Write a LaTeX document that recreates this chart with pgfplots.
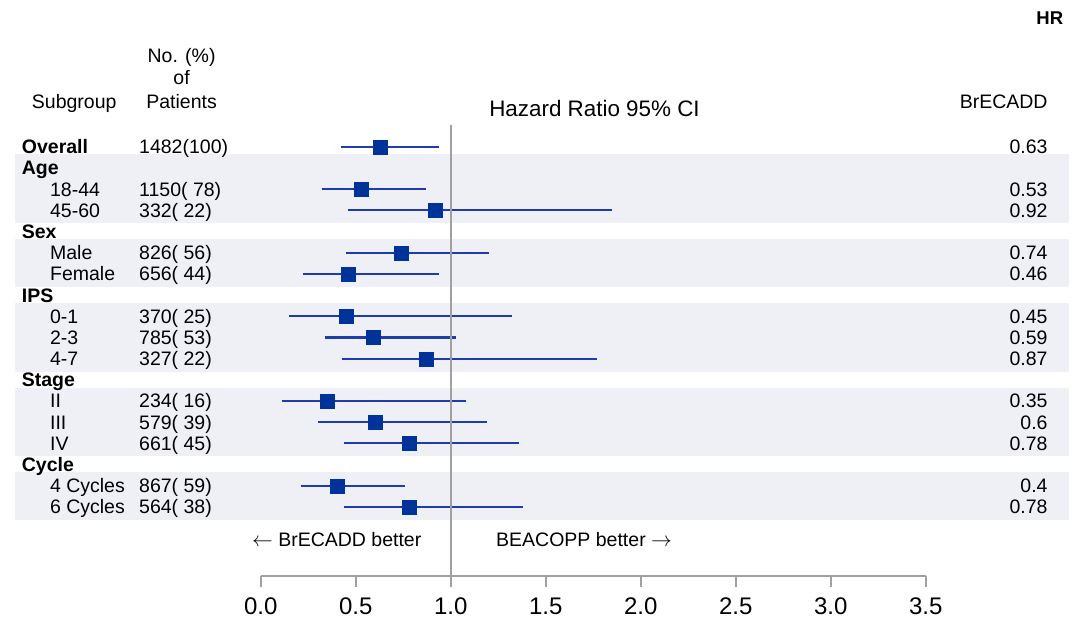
\documentclass[border=0pt]{standalone}
\usepackage{fontspec}
\setmainfont{Liberation Sans}
\usepackage{pgfplots}
\usepackage{pgfplotstable}
\pgfplotsset{compat=1.18}
\definecolor{stripe}{RGB}{239,239,246}
\definecolor{ci}{RGB}{30,60,170}
\definecolor{sq}{RGB}{0,51,153}
\definecolor{refg}{RGB}{160,160,160}
\newcommand\rf{\fontsize{19.5}{22}\selectfont}

% hazard ratio estimates (row index from the top)
\pgfplotstableread{
row hr
0 0.63
2 0.53
3 0.92
5 0.74
6 0.46
8 0.45
9 0.59
10 0.87
12 0.35
13 0.60
14 0.78
16 0.40
17 0.78
}\hrdata

% 95% CI segments (lower, upper), separated by nan
\pgfplotstableread{
x row
0.42 0
0.94 0
nan nan
0.32 2
0.87 2
nan nan
0.46 3
1.85 3
nan nan
0.45 5
1.20 5
nan nan
0.22 6
0.94 6
nan nan
0.15 8
1.32 8
nan nan
0.34 9
1.03 9
nan nan
0.43 10
1.77 10
nan nan
0.11 12
1.08 12
nan nan
0.30 13
1.19 13
nan nan
0.44 14
1.36 14
nan nan
0.21 16
0.76 16
nan nan
0.44 17
1.38 17
}\cidata

\begin{document}
\begin{tikzpicture}[
  head/.style={anchor=base west, inner sep=0pt, yshift=-7pt, font=\rf\bfseries},
  item/.style={anchor=base west, inner sep=0pt, yshift=-7pt, font=\rf},
  num/.style={anchor=base west, inner sep=0pt, yshift=-7pt, font=\rf},
  hrv/.style={anchor=base east, inner sep=0pt, yshift=-7pt, font=\rf}]
\useasboundingbox (0,0) rectangle (1073pt,621pt);
\begin{axis}[at={(0,0)}, anchor=south west, width=1073pt, height=621pt, scale only axis,
  xmin=-1.37211, xmax=4.27526, ymin=-6.9231, ymax=22.383, y dir=reverse,
  hide axis, clip=false, unbounded coords=jump]
% stripes
\addplot[fill=stripe, draw=none] coordinates {(-1.293,0.36) (4.254,0.36) (4.254,3.61) (-1.293,3.61)} -- cycle;
\addplot[fill=stripe, draw=none] coordinates {(-1.293,4.37) (4.254,4.37) (4.254,6.60) (-1.293,6.60)} -- cycle;
\addplot[fill=stripe, draw=none] coordinates {(-1.293,7.36) (4.254,7.36) (4.254,10.62) (-1.293,10.62)} -- cycle;
\addplot[fill=stripe, draw=none] coordinates {(-1.293,11.38) (4.254,11.38) (4.254,14.60) (-1.293,14.60)} -- cycle;
\addplot[fill=stripe, draw=none] coordinates {(-1.293,15.37) (4.254,15.37) (4.254,17.62) (-1.293,17.62)} -- cycle;
% CIs
\addplot[ci, line width=2.2pt, mark=none] table[x=x, y=row] {\cidata};
% reference line
\addplot[refg, line width=1.8pt, mark=none] coordinates {(1,-1.04) (1,20.78)};
% estimates
\addplot[sq, only marks, mark=square*, mark size=7pt, mark options={fill=sq, draw=sq, line width=0.2pt}]
  table[x=hr, y=row] {\hrdata};

% header
\node[anchor=base west, inner sep=0pt, font=\rf] at (-1.205,-1.826) {Subgroup};
\node[anchor=base, inner sep=0pt, font=\rf] at (-0.4163,-3.997) {No. (\%)};
\node[anchor=base, inner sep=0pt, font=\rf] at (-0.4163,-2.912) {of};
\node[anchor=base, inner sep=0pt, font=\rf] at (-0.4163,-1.826) {Patients};
\node[anchor=base west, inner sep=0pt, font=\fontsize{22.4}{24}\selectfont] at (1.2021,-1.402) {Hazard Ratio 95\% CI};
\node[anchor=base east, inner sep=0pt, font=\rf] at (4.1421,-1.826) {BrECADD};
\node[anchor=base east, inner sep=0pt, font=\fontsize{18.5}{20}\selectfont\bfseries] at (4.2242,-5.776) {HR};

% headings
\node[head] at (-1.2579,0) {Overall};
\node[head] at (-1.2579,1) {Age};
\node[head] at (-1.2579,4) {Sex};
\node[head] at (-1.2579,7) {IPS};
\node[head] at (-1.2579,11) {Stage};
\node[head] at (-1.2579,15) {Cycle};
% items
\node[item] at (-1.1095,2) {18-44};
\node[item] at (-1.1095,3) {45-60};
\node[item] at (-1.1095,5) {Male};
\node[item] at (-1.1095,6) {Female};
\node[item] at (-1.1095,8) {0-1};
\node[item] at (-1.1095,9) {2-3};
\node[item] at (-1.1095,10) {4-7};
\node[item] at (-1.1095,12) {II};
\node[item] at (-1.1095,13) {III};
\node[item] at (-1.1095,14) {IV};
\node[item] at (-1.1095,16) {4 Cycles};
\node[item] at (-1.1095,17) {6 Cycles};
% numbers
\node[num] at (-0.6405,0) {1482(100)};
\node[num] at (-0.6405,2) {1150( 78)};
\node[num] at (-0.6405,3) {332( 22)};
\node[num] at (-0.6405,5) {826( 56)};
\node[num] at (-0.6405,6) {656( 44)};
\node[num] at (-0.6405,8) {370( 25)};
\node[num] at (-0.6405,9) {785( 53)};
\node[num] at (-0.6405,10) {327( 22)};
\node[num] at (-0.6405,12) {234( 16)};
\node[num] at (-0.6405,13) {579( 39)};
\node[num] at (-0.6405,14) {661( 45)};
\node[num] at (-0.6405,16) {867( 59)};
\node[num] at (-0.6405,17) {564( 38)};
% HR values
\node[hrv] at (4.1421,0) {0.63};
\node[hrv] at (4.1421,2) {0.53};
\node[hrv] at (4.1421,3) {0.92};
\node[hrv] at (4.1421,5) {0.74};
\node[hrv] at (4.1421,6) {0.46};
\node[hrv] at (4.1421,8) {0.45};
\node[hrv] at (4.1421,9) {0.59};
\node[hrv] at (4.1421,10) {0.87};
\node[hrv] at (4.1421,12) {0.35};
\node[hrv] at (4.1421,13) {0.6};
\node[hrv] at (4.1421,14) {0.78};
\node[hrv] at (4.1421,16) {0.4};
\node[hrv] at (4.1421,17) {0.78};
% direction labels
\node[anchor=base east, inner sep=0pt, font=\rf] at (0.8463,18.877) {$\leftarrow$ BrECADD better};
\node[anchor=base west, inner sep=0pt, font=\rf] at (1.2384,18.877) {BEACOPP better $\rightarrow$};
\end{axis}

\begin{axis}[at={(260.7pt,45pt)}, anchor=south west, width=665pt, height=20pt, scale only axis,
  xmin=0, xmax=3.5, ymin=0, ymax=1,
  axis x line*=bottom, hide y axis,
  xtick={0,0.5,1,1.5,2,2.5,3,3.5}, tick align=outside, major tick length=11pt,
  x axis line style={refg, line width=1.8pt},
  xtick style={refg, line width=1.8pt},
  xticklabel style={font=\fontsize{24}{24}\selectfont, text=black, yshift=-7pt},
  /pgf/number format/.cd, fixed, fixed zerofill, precision=1, assume math mode=true]
\addplot[draw=none] coordinates {(0,0)};
\end{axis}
\end{tikzpicture}
\end{document}
